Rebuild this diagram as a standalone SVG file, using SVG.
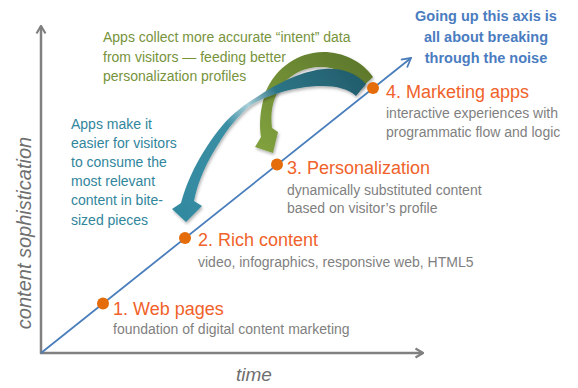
<svg xmlns="http://www.w3.org/2000/svg" width="578" height="388" viewBox="0 0 578 388">
<defs>
<style>
.t{font-family:"Liberation Sans",Arial,sans-serif}
.ttl{font-size:18px;fill:#F0622A}
.sub{font-size:14px;fill:#7F7F7F}
.grn{font-size:14px;fill:#77933C}
.tea{font-size:14px;fill:#31859C}
.hd{font-size:14.5px;font-weight:bold;fill:#4A7CBF}
.ax{font-size:20px;font-style:italic;fill:#6F6F6F}
.dot{fill:#E46C0A}
.axis{stroke:#808080;stroke-width:2.5;fill:none}
.diag{stroke:#4A7EBB;stroke-width:1.8;fill:none}
</style>
<marker id="ga" viewBox="0 0 12 12" refX="11" refY="6" markerWidth="12" markerHeight="12" markerUnits="userSpaceOnUse" orient="auto">
<path d="M3.5,1.5 L11,6 L3.5,10.5" fill="none" stroke="#808080" stroke-width="2.2"/>
</marker>
<marker id="ba" viewBox="0 0 12 12" refX="11" refY="6" markerWidth="12" markerHeight="12" markerUnits="userSpaceOnUse" orient="auto">
<path d="M2,1 L11,6 L2,11" fill="none" stroke="#4A7EBB" stroke-width="1.8"/>
</marker>
<linearGradient id="gg" gradientUnits="userSpaceOnUse" x1="370" y1="55" x2="265" y2="150">
<stop offset="0" stop-color="#5B752A"/>
<stop offset="1" stop-color="#80A03D"/>
</linearGradient>
<linearGradient id="tg" gradientUnits="userSpaceOnUse" x1="360" y1="80" x2="185" y2="215">
<stop offset="0" stop-color="#235E6D"/>
<stop offset="0.33" stop-color="#2C7587"/>
<stop offset="0.47" stop-color="#A9CFD8"/>
<stop offset="0.6" stop-color="#3A8EA4"/>
<stop offset="1" stop-color="#338AA0"/>
</linearGradient>
<filter id="sh" x="-20%" y="-20%" width="140%" height="140%">
<feDropShadow dx="1" dy="2" stdDeviation="1.5" flood-color="#000" flood-opacity="0.3"/>
</filter>
</defs>
<rect width="578" height="388" fill="#fff"/>

<g id="connectors">
<line class="axis" x1="41" y1="354" x2="41" y2="26" marker-end="url(#ga)"/>
<line class="axis" x1="40" y1="353" x2="423" y2="353" marker-end="url(#ga)"/>
<line class="diag" x1="41" y1="353" x2="411" y2="58" marker-end="url(#ba)"/>
<path id="green-arrow" filter="url(#sh)" fill="url(#gg)" d="M373 77 C360 58,335 49,313 53 C290 57,272 74,265 94 C260 110,259 125,261 137 L255 147 L273 153 L278 132 L272 128 C271 118,271 108,275 98 C282 80,298 68,318 67 C335 66,352 74,361 88 Z"/>
<path id="teal-arrow" filter="url(#sh)" fill="url(#tg)" d="M366 84 C355 72,340 68,325 69 C305 70,280 82,260 95 C245 104,232 114,222 126 C208 143,190 170,181 203 L172 209 L186 222 L202 206 L194 201 C198 180,208 160,219 143 C228 128,238 116,250 106 C262 98,280 91,300 88 C325 84,345 86,356 96 Z"/>
</g>

<g id="axis-labels" class="t">
<text class="t ax" transform="translate(31,233) rotate(-90)" text-anchor="middle">content sophistication</text>
<text class="t ax" x="254" y="381" text-anchor="middle" style="font-size:19px">time</text>
</g>

<g id="node1">
<circle class="dot" cx="103" cy="303.5" r="6"/>
<text class="t ttl" x="113" y="315">1. Web pages</text>
<text class="t sub" x="113" y="334">foundation of digital content marketing</text>
</g>

<g id="node2">
<circle class="dot" cx="185" cy="238" r="6"/>
<text class="t ttl" x="198" y="246">2. Rich content</text>
<text class="t sub" x="198" y="267">video, infographics, responsive web, HTML5</text>
</g>

<g id="node3">
<circle class="dot" cx="277" cy="164.5" r="6"/>
<text class="t ttl" x="287" y="174">3. Personalization</text>
<text class="t sub" x="287" y="194.5">dynamically substituted content</text>
<text class="t sub" x="287" y="213">based on visitor’s profile</text>
</g>

<g id="node4">
<circle class="dot" cx="373" cy="88" r="6"/>
<text class="t ttl" x="386" y="98">4. Marketing apps</text>
<text class="t sub" x="386" y="118">interactive experiences with</text>
<text class="t sub" x="386" y="137">programmatic flow and logic</text>
</g>

<g id="note-green">
<text class="t grn" x="103" y="42">Apps collect more accurate “intent” data</text>
<text class="t grn" x="103" y="62">from visitors — feeding better</text>
<text class="t grn" x="103" y="81">personalization profiles</text>
</g>

<g id="note-teal">
<text class="t tea" x="71" y="128.5">Apps make it</text>
<text class="t tea" x="71" y="147.7">easier for visitors</text>
<text class="t tea" x="71" y="166.9">to consume the</text>
<text class="t tea" x="71" y="186.1">most relevant</text>
<text class="t tea" x="71" y="205.3">content in bite-</text>
<text class="t tea" x="71" y="224.5">sized pieces</text>
</g>

<g id="note-heading">
<text class="t hd" x="486" y="20.5" text-anchor="middle">Going up this axis is</text>
<text class="t hd" x="486" y="42" text-anchor="middle">all about breaking</text>
<text class="t hd" x="486" y="63" text-anchor="middle">through the noise</text>
</g>
</svg>
